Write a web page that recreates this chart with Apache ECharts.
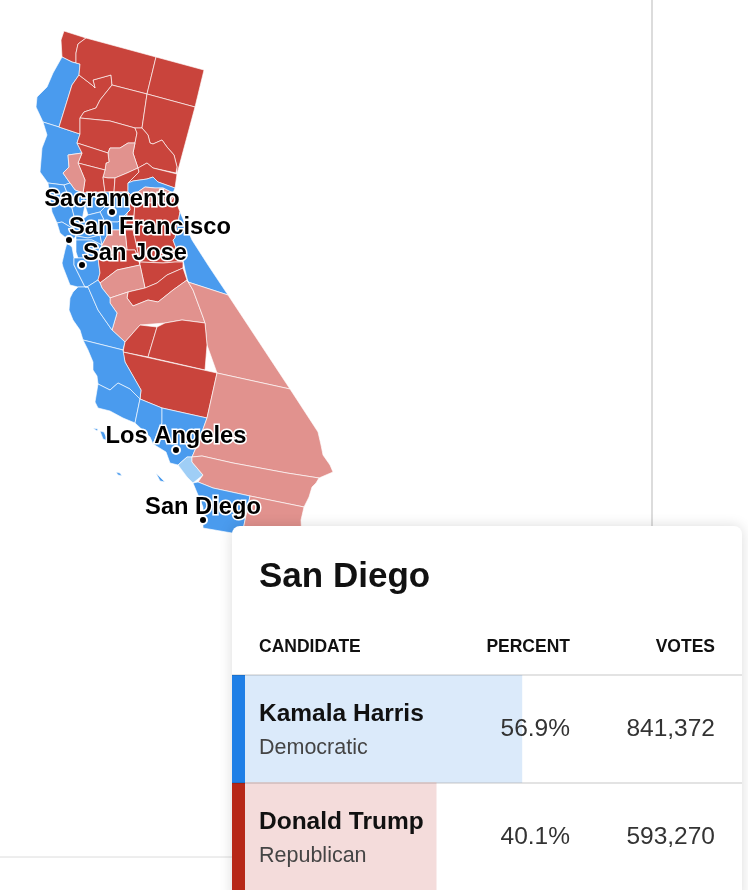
<!DOCTYPE html>
<html>
<head>
<meta charset="utf-8">
<style>html,body{margin:0;padding:0;background:#fff}#chart{width:748px;height:890px}</style>
<script src="https://cdn.jsdelivr.net/npm/echarts@6/dist/echarts.min.js"></script>
</head>
<body>
<div id="chart"></div>
<script>
// county outlines, map units match the page (x, y down)
const countyNames = ['Del Norte','Humboldt','Mendocino','Trinity','Siskiyou','Modoc','Shasta','Lassen','Tehama','Plumas','Butte','Glenn','Colusa','Lake','Sutter','Yuba','Sierra','Nevada','Placer','Amador','Tuolumne','Calaveras','Mono','Sonoma','Napa','Yolo','Sacramento','Solano','Marin','Contra Costa','San Joaquin','Alameda','San Mateo','Santa Clara','Stanislaus','Merced','Mariposa','San Benito Hills','Madera','Fresno','Inyo','Monterey','San Benito','Kings','Tulare','Kern','San Luis Obispo','Santa Barbara','Ventura','Los Angeles','Orange','San Bernardino','Riverside','San Diego','Imperial','San Miguel','Santa Rosa','Catalina','San Clemente'];
const countyLeaders = ['R','D','D','R','R','R','R','R','R','R','r','R','R','r','R','R','R','D','r','R','R','R','D','D','D','D','D','D','D','D','D','D','D','D','r','R','R','r','R','r','r','D','D','R','R','R','D','D','D','D','d','r','r','D','r','D','D','D','D'];
const countyRings = [
  [[64,31],[86,38],[78,44],[76,53],[76,63],[72,62],[62,57],[61,40]],
  [[62,57],[72,62],[76,63],[80,64],[79,75],[72,85],[59,127],[43,122],[36,107],[37,97],[47,87],[53,73]],
  [[43,122],[59,127],[80,134],[77,143],[82,153],[68,155],[69,167],[63,173],[70,183],[64,185],[48,183],[40,172],[42,148],[47,135]],
  [[79,75],[92,85],[95,88],[93,80],[111,75],[112,85],[100,100],[96,108],[84,112],[80,118],[80,134],[59,127],[72,85]],
  [[86,38],[156,57],[147,94],[112,85],[111,75],[93,80],[95,88],[92,85],[79,75],[80,64],[76,63],[76,53],[78,44]],
  [[156,57],[204,70],[195,107],[147,94]],
  [[112,85],[147,94],[142,128],[135,128],[110,121],[100,120],[80,118],[84,112],[96,108],[100,100]],
  [[147,94],[195,107],[177,174],[176,173],[177,167],[174,155],[167,147],[162,140],[153,144],[150,143],[148,135],[142,128]],
  [[80,118],[100,120],[110,121],[135,128],[137,133],[135,143],[128,143],[120,148],[110,148],[108,153],[77,143],[80,134]],
  [[142,128],[148,135],[150,143],[153,144],[162,140],[167,147],[174,155],[177,167],[176,173],[177,174],[153,168],[147,163],[138,168],[133,153],[135,143],[137,133],[135,128]],
  [[135,143],[133,153],[138,168],[127,173],[115,178],[108,178],[103,177],[105,170],[106,163],[109,162],[108,153],[110,148],[120,148],[128,143]],
  [[77,143],[108,153],[109,162],[106,163],[105,170],[78,163],[82,153]],
  [[78,163],[105,170],[103,177],[105,192],[83,193],[85,180]],
  [[68,155],[82,153],[78,163],[85,180],[83,193],[75,190],[70,183],[63,173],[69,167]],
  [[103,177],[108,178],[115,178],[114,192],[105,192]],
  [[115,178],[127,173],[138,168],[139,172],[128,183],[128,192],[114,192]],
  [[138,168],[147,163],[153,168],[177,174],[175,188],[158,182],[153,177],[147,179],[133,181],[128,183],[139,172]],
  [[128,183],[133,181],[147,179],[153,177],[158,182],[175,188],[173,193],[163,188],[155,188],[145,187],[132,196],[128,192]],
  [[132,196],[145,187],[155,188],[163,188],[173,193],[174,196],[170,203],[135,203]],
  [[128,192],[132,196],[135,203],[133,230],[125,230],[127,213],[130,210]],
  [[135,203],[170,203],[174,196],[180,212],[175,238],[173,240],[178,253],[183,262],[175,262],[163,263],[140,262],[133,230]],
  [[125,230],[133,230],[140,262],[135,250],[127,250]],
  [[180,212],[192,240],[208,265],[228,295],[188,282],[185,270],[183,260],[178,253],[173,240],[175,238]],
  [[48,183],[64,185],[70,200],[75,220],[72,228],[62,222],[57,223],[52,212]],
  [[64,185],[70,183],[75,190],[83,193],[85,205],[82,220],[75,220],[70,200]],
  [[83,193],[105,192],[107,205],[100,212],[88,215],[85,205]],
  [[105,192],[114,192],[128,192],[130,210],[118,222],[105,222],[100,212],[107,205]],
  [[82,220],[88,215],[100,212],[105,222],[100,235],[88,238],[76,236],[72,228],[75,220]],
  [[57,223],[62,222],[72,228],[76,236],[72,241],[66,238],[60,233]],
  [[76,236],[88,238],[100,235],[102,245],[92,240],[85,240],[76,240]],
  [[105,222],[118,222],[130,210],[127,213],[125,230],[110,230],[102,245],[100,235]],
  [[76,240],[85,240],[92,240],[102,245],[98,260],[98,258],[78,258],[76,252]],
  [[67,243],[72,247],[74,258],[74,265],[80,277],[85,287],[78,287],[70,285],[63,267],[62,263],[65,250]],
  [[74,258],[78,258],[98,258],[100,273],[98,280],[87,287],[85,287],[80,277],[74,265]],
  [[102,245],[110,230],[125,230],[127,250],[115,252],[98,260]],
  [[98,258],[98,260],[115,252],[127,250],[135,250],[140,265],[117,270],[100,283],[98,280],[100,273]],
  [[140,262],[163,263],[175,262],[183,262],[183,268],[167,275],[157,283],[145,288],[140,265]],
  [[100,283],[117,270],[140,265],[145,288],[128,292],[110,298],[102,288]],
  [[128,292],[145,288],[157,283],[167,275],[183,268],[187,280],[173,290],[158,302],[148,300],[133,306],[127,298]],
  [[110,298],[128,292],[127,298],[133,306],[148,300],[158,302],[173,290],[187,280],[193,290],[203,317],[205,323],[182,320],[165,323],[140,325],[125,342],[112,330],[117,313],[110,303]],
  [[187,280],[188,282],[228,295],[290,389],[217,373],[207,345],[205,323],[203,317],[193,290]],
  [[78,287],[88,287],[98,310],[112,330],[125,342],[123,350],[83,340],[80,330],[73,320],[69,310],[70,298],[73,292]],
  [[85,287],[87,287],[98,280],[100,283],[102,288],[110,298],[110,303],[117,313],[112,330],[98,310],[88,287]],
  [[140,325],[157,327],[148,357],[123,352],[125,342]],
  [[157,327],[165,323],[182,320],[205,323],[207,345],[205,370],[148,357]],
  [[123,352],[217,373],[207,418],[162,408],[140,399],[141,390],[125,362]],
  [[83,340],[123,350],[125,362],[141,390],[140,399],[130,389],[118,383],[110,390],[98,384],[97,376],[93,370],[93,362],[88,350]],
  [[98,384],[110,390],[118,383],[130,389],[140,399],[135,423],[123,418],[110,411],[98,408],[95,402]],
  [[140,399],[162,408],[162,423],[153,444],[150,437],[135,423]],
  [[162,408],[207,418],[198,443],[192,457],[187,457],[178,465],[170,463],[166,452],[153,444],[162,423]],
  [[178,465],[187,457],[192,457],[192,462],[203,475],[193,483],[187,477]],
  [[217,373],[290,389],[318,432],[321,445],[323,455],[330,465],[333,472],[319,478],[287,473],[233,463],[202,456],[192,457],[198,443],[207,418]],
  [[192,457],[202,456],[233,463],[287,473],[319,478],[316,483],[312,487],[309,497],[304,507],[250,496],[213,488],[198,482],[203,475],[192,462]],
  [[193,483],[198,482],[213,488],[250,496],[243,530],[232,533],[203,528],[203,507]],
  [[250,496],[304,507],[301,520],[302,540],[240,540],[243,530]],
  [[93,428],[98,429],[97,431]],
  [[100,431],[104,432],[108,441],[103,439]],
  [[116,472],[120,473],[122,476],[118,475]],
  [[156,473],[160,477],[165,482],[160,481]]
];

const leadColors = { D: '#4a9bee', R: '#c9443c', d: '#9fcef6', r: '#e1928e' };

const cityNames = ['Sacramento', 'San Francisco', 'San Jose', 'Los Angeles', 'San Diego'];
const cityPoints = [[112, 212], [69, 240], [82, 265], [176, 450], [203, 520]];

const raceTitle = 'San Diego';
const tableHeads = ['CANDIDATE', 'PERCENT', 'VOTES'];
const candidates = ['Kamala Harris', 'Donald Trump'];
const parties = ['Democratic', 'Republican'];
const percents = [56.9, 40.1];
const votes = [841372, 593270];
const barColors = ['#dbeafa', '#f4dcdb'];
const stripeColors = ['#1f7fe6', '#b72818'];

echarts.registerMap('california', {
  type: 'FeatureCollection',
  features: countyNames.map((name, i) => ({
    type: 'Feature',
    properties: { name: name },
    geometry: { type: 'Polygon', coordinates: [countyRings[i].concat([countyRings[i][0]]).map(p => [p[0], -p[1]])] }
  }))
});

const chart = echarts.init(document.getElementById('chart'));
const FONT = '"Liberation Sans", Arial, sans-serif';

function txt(x, y, text, size, weight, fill, align) {
  return {
    type: 'text', z: 20, silent: true, x: x, y: y,
    style: { text: text, fontFamily: FONT, fontSize: size, fontWeight: weight, fill: fill, align: align || 'left', verticalAlign: 'bottom' }
  };
}

const rowGraphics = [];
candidates.forEach((c, i) => {
  const top = 675 + i * 108;
  rowGraphics.push({ type: 'rect', z: 15, silent: true, shape: { x: 232, y: top, width: 13, height: 108 }, style: { fill: stripeColors[i] } });
  rowGraphics.push(txt(259, top + 52, c, 24.5, 'bold', '#111'));
  rowGraphics.push(txt(259, top + 84, parties[i], 21.5, 'normal', '#444'));
  rowGraphics.push(txt(570, top + 67, percents[i].toFixed(1) + '%', 24.5, 'normal', '#333', 'right'));
  rowGraphics.push(txt(715, top + 67, votes[i].toLocaleString('en-US'), 24.5, 'normal', '#333', 'right'));
  rowGraphics.push({ type: 'line', z: 16, silent: true, shape: { x1: 232, y1: top, x2: 742, y2: top }, style: { stroke: 'rgba(0,0,0,0.11)', lineWidth: 2 } });
});

// nudges the city names off their dots
const labelNudge = { 'Sacramento': [0, 9], 'San Francisco': [0, 9], 'San Jose': [1, 10], 'Los Angeles': [0, 8], 'San Diego': [0, 9] };

const option = {
  animation: false,
  geo: {
    map: 'california',
    roam: false,
    silent: true,
    left: 0, top: 0, width: 748, height: 890,
    aspectScale: 1,
    boundingCoords: [[0, 0], [748, -890]],
    itemStyle: { borderColor: 'rgba(255,255,255,0.8)', borderWidth: 0.8 },
    label: { show: false },
    emphasis: { disabled: true },
    regions: countyNames.map((name, i) => ({ name: name, itemStyle: { areaColor: leadColors[countyLeaders[i]] } }))
  },
  grid: { left: 232, top: 675, width: 510, height: 216 },
  xAxis: { type: 'value', min: 0, max: 100, show: false },
  yAxis: { type: 'category', data: candidates, inverse: true, show: false },
  series: [
    {
      type: 'bar',
      z: 12,
      silent: true,
      barWidth: 108,
      data: percents.map((v, i) => ({ value: v, itemStyle: { color: barColors[i] } }))
    },
    {
      type: 'scatter',
      coordinateSystem: 'geo',
      z: 30,
      silent: true,
      symbolSize: 8,
      itemStyle: { color: '#000', borderColor: '#fff', borderWidth: 2, opacity: 1 },
      data: cityNames.map((name, i) => {
        const sideways = name === 'San Francisco' || name === 'San Jose';
        return {
          name: name,
          value: [cityPoints[i][0], -cityPoints[i][1]],
          label: {
            show: true,
            formatter: '{b}',
            position: 'top',
            align: sideways ? 'left' : 'center',
            offset: labelNudge[name],
            fontFamily: FONT,
            fontWeight: 'bold',
            fontSize: 23.7,
            color: '#000',
            textBorderColor: '#fff',
            textBorderWidth: 3
          }
        };
      })
    }
  ],
  graphic: {
    elements: [
      { type: 'line', z: 1, silent: true, shape: { x1: 652, y1: 0, x2: 652, y2: 530 }, style: { stroke: '#dcdcdc', lineWidth: 2 } },
      { type: 'line', z: 1, silent: true, shape: { x1: 0, y1: 857, x2: 235, y2: 857 }, style: { stroke: '#dcdcdc', lineWidth: 1 } },
      {
        type: 'rect', z: 10, silent: true,
        shape: { x: 232, y: 526, width: 510, height: 380, r: 8 },
        style: { fill: '#fff', shadowBlur: 14, shadowColor: 'rgba(0,0,0,0.14)' }
      },
      txt(259, 595, raceTitle, 35, 'bold', '#111'),
      txt(259, 656, tableHeads[0], 17.5, 'bold', '#111'),
      txt(570, 656, tableHeads[1], 17.5, 'bold', '#111', 'right'),
      txt(715, 656, tableHeads[2], 17.5, 'bold', '#111', 'right')
    ].concat(rowGraphics)
  }
};

chart.setOption(option);
</script>
</body>
</html>
